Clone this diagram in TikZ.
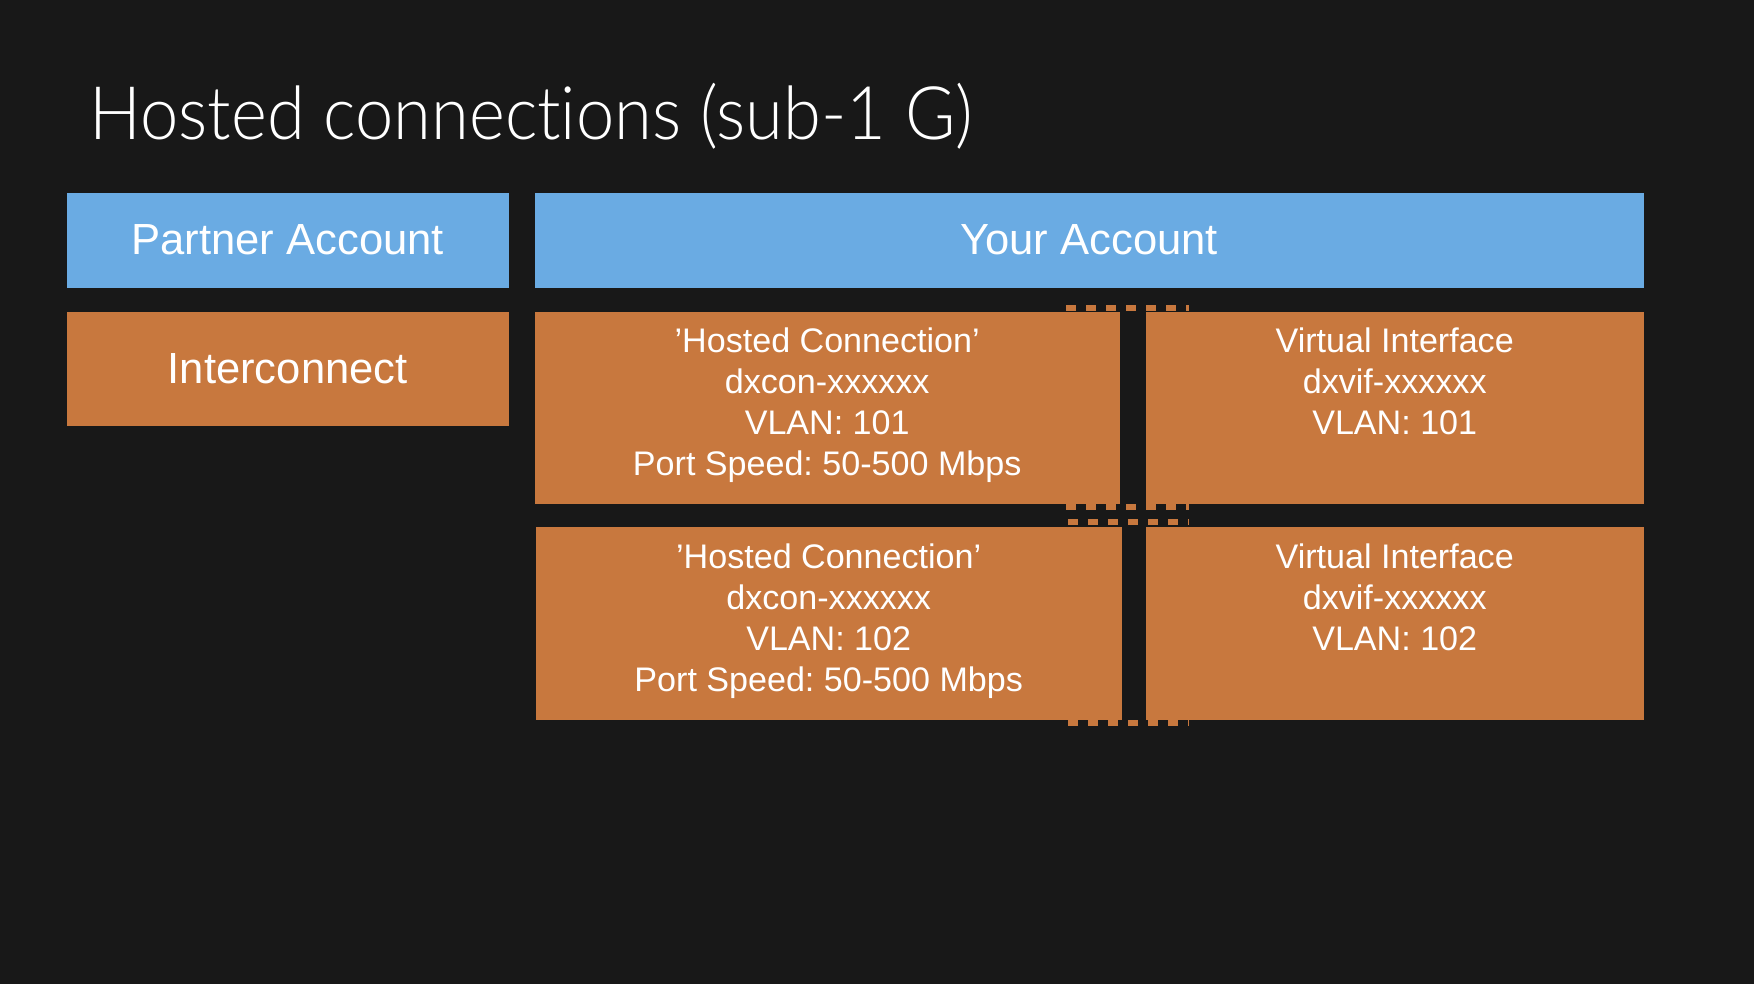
\documentclass[tikz,border=0pt]{standalone}
\definecolor{slidebg}{RGB}{24, 24, 24}
\definecolor{acctblue}{RGB}{106, 171, 227}
\definecolor{connorange}{RGB}{200, 120, 62}
\usepackage{fontspec}
\setmainfont{Liberation Sans}
\newfontfamily\titlefont[Ligatures=NoCommon, FakeStretch=0.93]{Lato Light}
\usepackage{tikz}
\usetikzlibrary{positioning, calc}
\frenchspacing

\begin{document}
\begin{tikzpicture}[x=0.1mm, y=-0.1mm,
    bluebox/.style={fill=acctblue, inner sep=0pt, anchor=north west, text=white, font=\fontsize{12.4}{15}\selectfont},
    orangebox/.style={fill=connorange, inner sep=0pt, anchor=north west, text=white, font=\fontsize{12.4}{15}\selectfont},
    boxtext/.style={inner sep=0pt, align=center, text=white, font=\fontsize{9.7}{11.7}\selectfont},
    seam/.style={draw=connorange, line width=0.6mm, dash pattern=on 1mm off 1mm}]
  % slide background
  \fill[slidebg] (0,0) rectangle (1754,984);

  % Title
  \node[anchor=base west, inner sep=0pt, text=white, font=\titlefont\fontsize{21}{25}\selectfont] (title) at (89,140) {Hosted connections (sub-1 G)};

  % Account headers
  \node[bluebox, minimum width=44.2mm, minimum height=9.5mm] (partner) at (66,192) {Partner Account};
  \node[bluebox, minimum width=110.9mm, minimum height=9.5mm] (your) at (534,192) {Your Account};

  % Partner side
  \node[orangebox, minimum width=44.2mm, minimum height=11.4mm] (inter) at (66,311) {Interconnect};

  % Your side: hosted connections and virtual interfaces
  \node[orangebox, minimum width=58.5mm, minimum height=19.2mm] (hc1) at (534,311) {};
  \node[orangebox, minimum width=49.8mm, minimum height=19.2mm] (vif1) at (1145,311) {};
  \node[orangebox, minimum width=58.6mm, minimum height=19.3mm] (hc2) at (535,526) {};
  \node[orangebox, minimum width=49.8mm, minimum height=19.3mm] (vif2) at (1145,526) {};

  \node[boxtext, anchor=north, yshift=-1.6mm] (hc1txt) at (hc1.north) {'Hosted Connection'\\dxcon-xxxxxx\\VLAN: 101\\Port Speed: 50-500 Mbps};
  \node[boxtext, anchor=north, yshift=-1.6mm] (vif1txt) at (vif1.north) {Virtual Interface\\dxvif-xxxxxx\\VLAN: 101};
  \node[boxtext, anchor=north, yshift=-1.7mm] (hc2txt) at (hc2.north) {'Hosted Connection'\\dxcon-xxxxxx\\VLAN: 102\\Port Speed: 50-500 Mbps};
  \node[boxtext, anchor=north, yshift=-1.7mm] (vif2txt) at (vif2.north) {Virtual Interface\\dxvif-xxxxxx\\VLAN: 102};

  % dashed seams across the gap
  \draw[seam] ($(hc1.north east)+(-54,-3)$) -- ($(vif1.north west)+(44,-3)$);
  \draw[seam] ($(hc1.south east)+(-54,3)$) -- ($(vif1.south west)+(44,3)$);
  \draw[seam] ($(hc2.north east)+(-54,-4)$) -- ($(vif2.north west)+(44,-4)$);
  \draw[seam] ($(hc2.south east)+(-54,3)$) -- ($(vif2.south west)+(44,3)$);
\end{tikzpicture}
\end{document}
